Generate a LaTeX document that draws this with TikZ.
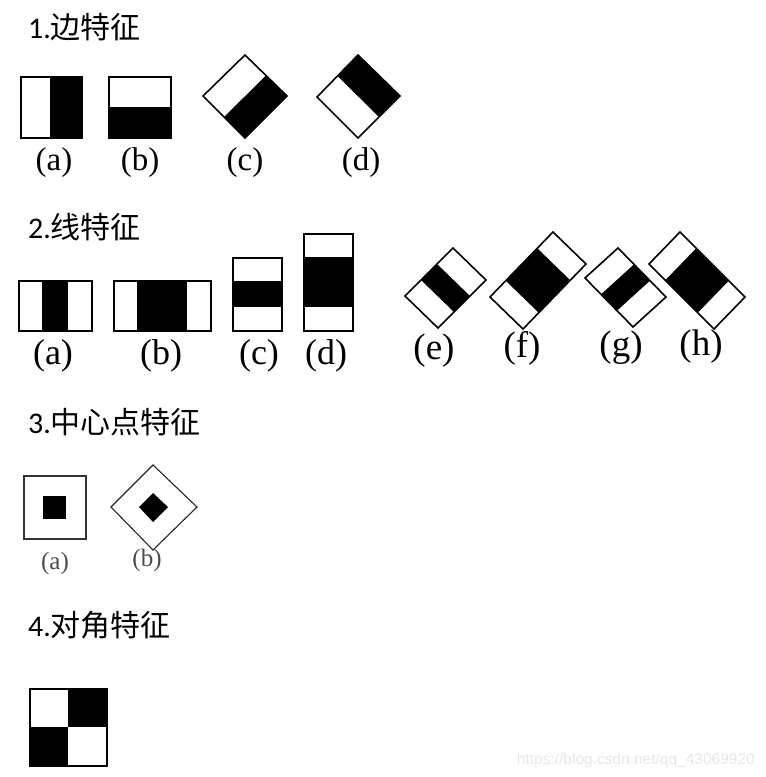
\documentclass[tikz,border=0pt]{standalone}
\usepackage{fontspec}
\setmainfont{Liberation Serif}
\newfontfamily\cjk{Noto Sans CJK SC}
\newfontfamily\digitfont{Carlito}
\newfontfamily\wmfont{Liberation Sans}
\usetikzlibrary{calc}
\tikzset{
  title/.style={anchor=base west, inner sep=0pt, font=\fontsize{30}{33}\selectfont},
  lab/.style={anchor=base, inner sep=0pt, font=\fontsize{33}{36}\selectfont},
  labm/.style={anchor=base, inner sep=0pt, font=\fontsize{36}{40}\selectfont},
  labs/.style={anchor=base, inner sep=0pt, font=\fontsize{37}{40}\selectfont},
  labc/.style={anchor=base, inner sep=0pt, text=black!70, font=\fontsize{25}{28}\selectfont},
  frame/.style={draw=black, line width=2pt},
  tframe/.style={draw=black, line width=1.6pt, line join=miter},
  blk/.style={fill=black},
}
\begin{document}
\begin{tikzpicture}[x=1pt,y=-1pt]
\useasboundingbox[fill=white] (0,0) rectangle (766,777);

% ---------- Titles ----------
\node[title] (t1) at (28,38) {\digitfont 1.\cjk 边特征};
\node[title] (t2) at (28,238) {\digitfont 2.\cjk 线特征};
\node[title] (t3) at (28,433) {\digitfont 3.\cjk 中心点特征};
\node[title] (t4) at (28,636) {\digitfont 4.\cjk 对角特征};

% ---------- 1. edge features ----------
% (a)
\fill[blk] (50,77) rectangle (82,138);
\draw[frame] (21,77) rectangle (82,138);
% (b)
\fill[blk] (109,107) rectangle (171,138);
\draw[frame] (109,77) rectangle (171,138);
% (c)
\coordinate (cL) at (203,96); \coordinate (cT) at (245,55);
\coordinate (cR) at (287,96); \coordinate (cB) at (245,138);
\fill[blk] ($(cL)!0.5!(cB)$) -- ($(cT)!0.5!(cR)$) -- (cR) -- (cB) -- cycle;
\draw[tframe] (cL) -- (cT) -- (cR) -- (cB) -- cycle;
% (d)
\coordinate (dL) at (317,97); \coordinate (dT) at (358,55);
\coordinate (dR) at (400,96); \coordinate (dB) at (358,138);
\fill[blk] ($(dL)!0.5!(dT)$) -- (dT) -- (dR) -- ($(dR)!0.5!(dB)$) -- cycle;
\draw[tframe] (dL) -- (dT) -- (dR) -- (dB) -- cycle;

\node[lab] (l1a) at (54,170) {(a)};
\node[lab] (l1b) at (140,170) {(b)};
\node[lab] (l1c) at (245,170) {(c)};
\node[lab] (l1d) at (361,170) {(d)};

% ---------- 2. line features ----------
% (a)
\fill[blk] (42,281) rectangle (68,331);
\draw[frame] (19,281) rectangle (92,331);
% (b)
\fill[blk] (137,281) rectangle (187,331);
\draw[frame] (114,281) rectangle (211,331);
% (c)
\fill[blk] (233,281) rectangle (282,307);
\draw[frame] (233,258) rectangle (282,331);
% (d)
\fill[blk] (304,257) rectangle (353,307);
\draw[frame] (304,234) rectangle (353,331);
% (e)
\coordinate (eL) at (405,296); \coordinate (eT) at (453,248);
\coordinate (eR) at (486,280); \coordinate (eB) at (438,328);
\fill[blk] ($(eL)!1/3!(eT)$) -- ($(eL)!2/3!(eT)$) -- ($(eB)!2/3!(eR)$) -- ($(eB)!1/3!(eR)$) -- cycle;
\draw[tframe] (eL) -- (eT) -- (eR) -- (eB) -- cycle;
% (f)
\coordinate (fL) at (490,297); \coordinate (fT) at (553,232);
\coordinate (fR) at (586,264); \coordinate (fB) at (523,329);
\fill[blk] ($(fL)!0.25!(fT)$) -- ($(fL)!0.75!(fT)$) -- ($(fB)!0.75!(fR)$) -- ($(fB)!0.25!(fR)$) -- cycle;
\draw[tframe] (fL) -- (fT) -- (fR) -- (fB) -- cycle;
% (g)
\coordinate (gL) at (585,278); \coordinate (gT) at (618,248);
\coordinate (gR) at (666,297); \coordinate (gB) at (633,327);
\fill[blk] ($(gL)!1/3!(gB)$) -- ($(gL)!2/3!(gB)$) -- ($(gT)!2/3!(gR)$) -- ($(gT)!1/3!(gR)$) -- cycle;
\draw[tframe] (gL) -- (gT) -- (gR) -- (gB) -- cycle;
% (h)
\coordinate (hL) at (649,264); \coordinate (hT) at (680,232);
\coordinate (hR) at (745,297); \coordinate (hB) at (714,329);
\fill[blk] ($(hL)!0.25!(hB)$) -- ($(hL)!0.75!(hB)$) -- ($(hT)!0.75!(hR)$) -- ($(hT)!0.25!(hR)$) -- cycle;
\draw[tframe] (hL) -- (hT) -- (hR) -- (hB) -- cycle;

\node[labm] (l2a) at (53,364) {(a)};
\node[labm] (l2b) at (161,364) {(b)};
\node[labm] (l2c) at (259,364) {(c)};
\node[labm] (l2d) at (326,364) {(d)};
\node[labs] (l2e) at (434,359) {(e)};
\node[labs] (l2f) at (522,357) {(f)};
\node[labs] (l2g) at (621,356) {(g)};
\node[labs] (l2h) at (701,355) {(h)};

% ---------- 3. center features ----------
\draw[draw=black!80, line width=2pt] (24,476) rectangle (86,539);
\fill[blk] (43,496) rectangle (66,519);
\draw[black!85, line width=1.1pt] (111,507) -- (153,465) -- (197,507) -- (153,550) -- cycle;
\fill[blk] (139,507) -- (153,493) -- (168,507) -- (153,522) -- cycle;
\node[labc] (l3a) at (55,569) {(a)};
\node[labc] (l3b) at (147,566) {(b)};

% ---------- 4. diagonal feature ----------
\fill[blk] (68,689) rectangle (107,727);
\fill[blk] (30,727) rectangle (68,766);
\draw[frame] (30,689) rectangle (107,766);

% watermark
\node[anchor=base east, inner sep=0pt, text=black!9, font=\wmfont\fontsize{15.5}{17}\selectfont] (wm) at (755,764) {https://blog.csdn.net/qq\_43069920};
\end{tikzpicture}
\end{document}
